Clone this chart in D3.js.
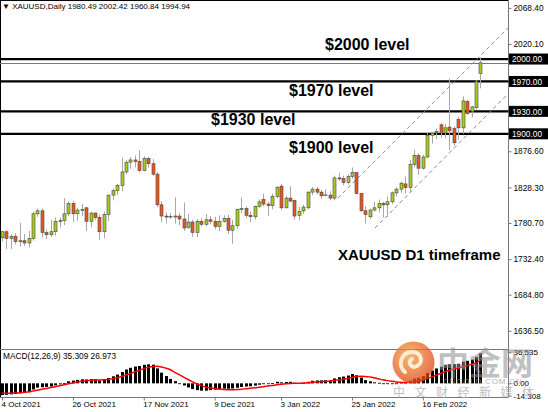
<!DOCTYPE html>
<html><head><meta charset="utf-8">
<script src="https://cdn.jsdelivr.net/npm/d3@7"></script>
<style>html,body{margin:0;padding:0;background:#fff;} svg{display:block;font-family:"Liberation Sans",Arial,sans-serif;}</style>
</head><body><svg id="c" width="548" height="412"></svg>
<script>
const dates = ["2021-10-04","2021-10-05","2021-10-06","2021-10-07","2021-10-08","2021-10-11","2021-10-12","2021-10-13","2021-10-14","2021-10-15",
"2021-10-18","2021-10-19","2021-10-20","2021-10-21","2021-10-22","2021-10-25","2021-10-26","2021-10-27","2021-10-28","2021-10-29",
"2021-11-01","2021-11-02","2021-11-03","2021-11-04","2021-11-05","2021-11-08","2021-11-09","2021-11-10","2021-11-11","2021-11-12",
"2021-11-15","2021-11-16","2021-11-17","2021-11-18","2021-11-19","2021-11-22","2021-11-23","2021-11-24","2021-11-25","2021-11-26",
"2021-11-29","2021-11-30","2021-12-01","2021-12-02","2021-12-03","2021-12-06","2021-12-07","2021-12-08","2021-12-09","2021-12-10",
"2021-12-13","2021-12-14","2021-12-15","2021-12-16","2021-12-17","2021-12-20","2021-12-21","2021-12-22","2021-12-23","2021-12-28",
"2021-12-29","2021-12-30","2021-12-31","2022-01-03","2022-01-04","2022-01-05","2022-01-06","2022-01-07","2022-01-10","2022-01-11",
"2022-01-12","2022-01-13","2022-01-14","2022-01-17","2022-01-18","2022-01-19","2022-01-20","2022-01-21","2022-01-24","2022-01-25",
"2022-01-26","2022-01-27","2022-01-28","2022-01-31","2022-02-01","2022-02-02","2022-02-03","2022-02-04","2022-02-07","2022-02-08",
"2022-02-09","2022-02-10","2022-02-11","2022-02-14","2022-02-15","2022-02-16","2022-02-17","2022-02-18","2022-02-21","2022-02-22",
"2022-02-23","2022-02-24","2022-02-25","2022-02-28","2022-03-01","2022-03-02","2022-03-03","2022-03-04","2022-03-07"];

const open = [1761,1769,1760,1763,1756,1757,1754,1760,1793,1797, 1768,1765,1769,1783,1784,1793,1807,1793,1798,1801,
1783,1794,1788,1769,1792,1818,1824,1831,1849,1862, 1865,1863,1851,1867,1860,1846,1805,1790,1789,1789,
1790,1786,1775,1782,1768,1783,1779,1785,1783,1776, 1783,1787,1771,1777,1799,1800,1791,1789,1803,1812,
1806,1804,1816,1830,1801,1814,1811,1791,1797,1801, 1822,1826,1822,1818,1818,1814,1841,1840,1835,1843,
1848,1820,1797,1789,1798,1801,1807,1805,1809,1821, 1826,1833,1828,1859,1871,1854,1869,1898,1902,1912,
1901,1909,1907,1919,1908,1943,1930,1935,1980.49];
const high = [1770,1771,1766,1767,1781,1766,1770,1796,1800,1800, 1772,1785,1788,1788,1814,1810,1810,1801,1806,1802,
1796,1795,1792,1796,1818,1827,1833,1868,1865,1869, 1871,1878,1870,1869,1866,1849,1810,1795,1794,1815,
1794,1808,1793,1785,1786,1787,1793,1790,1789,1791, 1791,1792,1785,1800,1815,1803,1796,1804,1812,1820,
1809,1820,1830,1833,1817,1830,1812,1802,1805,1823, 1829,1829,1825,1826,1823,1844,1848,1844,1846,1855,
1849,1821,1803,1800,1809,1812,1809,1816,1823,1829, 1836,1843,1865,1879,1874,1872,1902,1902,1907,1914,
1913,1974,1910,1923,1950,1945,1937,1972,2002.42];
const low = [1756,1746,1746,1752,1749,1750,1748,1757,1789,1761, 1759,1762,1764,1775,1778,1790,1782,1784,1790,1770,
1775,1785,1758,1760,1783,1811,1818,1823,1846,1853, 1855,1849,1850,1855,1844,1802,1782,1780,1786,1780,
1778,1770,1773,1762,1762,1776,1777,1779,1772,1770, 1781,1766,1753,1773,1794,1787,1782,1785,1801,1803,
1790,1799,1814,1798,1800,1809,1785,1784,1793,1799, 1818,1819,1813,1817,1811,1811,1837,1831,1832,1840,
1819,1796,1780,1786,1796,1795,1788,1789,1806,1816, 1821,1820,1821,1855,1845,1852,1867,1887,1893,1895,
1894,1878,1884,1892,1900,1925,1922,1932,1960.84];
const close = [1769,1760,1763,1756,1757,1754,1760,1793,1797,1768, 1765,1769,1783,1784,1793,1807,1793,1798,1799,1783,
1794,1788,1769,1792,1818,1824,1831,1849,1862,1865, 1863,1851,1867,1860,1846,1805,1790,1789,1789,1790,
1786,1774,1782,1768,1783,1779,1785,1783,1776,1783, 1787,1771,1777,1799,1800,1791,1789,1803,1809,1806,
1804,1816,1828,1801,1814,1810,1790,1796,1802,1822, 1826,1822,1817,1818,1814,1841,1840,1835,1843,1848,
1820,1797,1792,1798,1801,1807,1805,1809,1821,1826, 1834,1828,1859,1871,1854,1869,1898,1901,1903,1902,
1908,1904,1888,1908,1944,1927,1936,1970,1994.94];

const macdMain = [-13.8,-13.5,-13.0,-12.5,-11.8,-11.3,-10.5,-7.2,-5.0,-4.6,
-4.2,-3.7,-2.4,-1.2,0.4,2.4,3.3,4.1,4.8,4.6,
5.0,4.8,3.4,4.0,6.3,8.3,10.3,13.3,16.3,18.3,
19.8,20.4,21.8,22.4,22.0,17.6,12.6,8.6,5.2,2.6,
0.0,-2.5,-4.8,-6.8,-8.0,-8.6,-8.6,-8.0,-7.4,-6.8,
-6.2,-6.4,-6.1,-5.2,-4.3,-3.8,-3.4,-2.6,-1.6,-1.0,
-0.8,0.2,1.8,1.2,1.6,1.8,0.6,0.4,0.5,1.8,
3.0,3.4,3.5,3.7,3.5,5.8,7.2,8.0,9.2,11.0,
9.5,6.8,3.8,2.4,1.2,0.6,-0.1,-0.6,-0.5,-0.1,
0.8,0.8,3.0,5.5,6.5,8.5,12.0,15.0,17.5,19.5,
21.5,22.5,22.5,23.0,25.5,26.5,28.0,31.0,35.309];
const macdSignal = [-11.5,-11.7,-11.6,-11.4,-11.0,-10.5,-9.9,-9.0,-8.0,-7.0,
-6.0,-5.0,-3.9,-2.8,-1.6,-0.5,0.5,1.5,2.4,3.0,
3.6,4.0,4.0,4.1,4.6,5.4,6.5,8.0,9.8,11.6,
13.5,15.5,17.3,18.8,19.8,20.0,19.3,17.9,16.0,13.0,
10.2,7.3,4.5,1.8,-0.8,-2.7,-4.2,-5.3,-6.2,-6.8,
-7.2,-7.4,-7.5,-7.3,-6.9,-6.4,-5.9,-5.3,-4.6,-3.9,
-3.2,-2.5,-1.7,-1.1,-0.6,-0.1,0.1,0.2,0.3,0.6,
1.1,1.6,2.0,2.4,2.7,3.3,4.1,4.9,5.8,7.0,
8.0,8.3,8.2,7.6,6.6,5.4,4.2,3.2,2.4,1.7,
1.2,1.0,1.3,2.1,3.0,4.2,5.8,7.6,9.6,11.6,
13.6,15.4,16.8,18.0,19.5,20.9,22.3,24.1,26.973];

const priceTicks = [2068.40, 2020.10, 1876.60, 1828.30, 1780.70, 1732.40, 1684.80, 1636.50];
const levels = [2000, 1970, 1930, 1900];
const levelTexts = ["$2000 level", "$1970 level", "$1930 level", "$1900 level"];
const xTickDates = ["2021-10-04","2021-10-26","2021-11-17","2021-12-09","2022-01-03","2022-01-25","2022-02-16"];
const xTickLabels = ["4 Oct 2021","26 Oct 2021","17 Nov 2021","9 Dec 2021","3 Jan 2022","25 Jan 2022","16 Feb 2022"];
const macdTicks = [36.535, 0, -14.308];
const channelUpper = [[75.8, 1814.1], [114.2, 2041.5]];
const channelLower = [[84.2, 1774.0], [114.2, 1953.5]];

const svg = d3.select("#c");
const W = 548, H = 412, PR = 508.5;
const x = d3.scalePoint().domain(dates).range([2, 2 + 4.43 * (dates.length - 1)]);
const xi = d3.scaleLinear().domain([0, dates.length - 1]).range([2, 2 + 4.43 * (dates.length - 1)]);
const y = d3.scaleLinear().domain([1636.5, 2068.4]).range([330.8, 7.9]);
const ym = d3.scaleLinear().domain([-14.308, 36.535]).range([395.5, 352.3]);

svg.append("rect").attr("width", W).attr("height", H).attr("fill", "#fff");

// frame
const frame = svg.append("g").attr("stroke", "#000").attr("stroke-width", 1).attr("fill", "none");
frame.append("line").attr("x1", 0.5).attr("x2", 0.5).attr("y1", 0).attr("y2", 397.5);
frame.append("line").attr("x1", 0).attr("x2", PR).attr("y1", 0.5).attr("y2", 0.5);
frame.append("line").attr("x1", PR).attr("x2", PR).attr("y1", 0).attr("y2", 397.5).attr("stroke", "#777");
frame.append("line").attr("x1", 0).attr("x2", PR).attr("y1", 349.5).attr("y2", 349.5).attr("stroke", "#777");
frame.append("line").attr("x1", 0).attr("x2", PR).attr("y1", 397.5).attr("y2", 397.5).attr("stroke", "#777");

// right price axis
const ax = svg.append("g").attr("transform", `translate(${PR},0)`)
  .call(d3.axisRight(y).tickValues(priceTicks).tickFormat(d3.format(".2f")).tickSize(3).tickPadding(2));
ax.select(".domain").remove();
ax.selectAll("text").attr("font-size", 8.3).attr("fill", "#000");
ax.selectAll("line").attr("stroke", "#777");

// bottom axis
const bx = svg.append("g").attr("transform", "translate(0,397.5)")
  .call(d3.axisBottom(x).tickValues(xTickDates).tickFormat((d, i) => xTickLabels[i]).tickSize(3).tickPadding(1));
bx.select(".domain").remove();
bx.selectAll("line").attr("stroke", "#777");
bx.selectAll("text").attr("font-size", 8).attr("fill", "#000").attr("text-anchor", "start").attr("dx", -1);

// level lines
svg.append("g").selectAll("line").data(levels).join("line")
  .attr("x1", 0).attr("x2", PR).attr("y1", d => y(d)).attr("y2", d => y(d))
  .attr("stroke", "#000").attr("stroke-width", 2.2);
// bid line
const bidY = Math.round(y(close[close.length-1])) + 0.5;
svg.append("line").attr("x1", 0).attr("x2", PR).attr("y1", bidY).attr("y2", bidY)
  .attr("stroke", "#6f6fc8").attr("stroke-width", 1);

// channel lines
const chLine = d3.line().x(d => xi(d[0])).y(d => y(d[1]));
[channelUpper, channelLower].forEach(c => {
  svg.append("path").attr("d", chLine(c)).attr("fill", "none").attr("stroke", "#8a8a8a").attr("stroke-width", 1).attr("stroke-dasharray", "4,3");
});

// candles
const cg = svg.append("g");
dates.forEach((d, i) => {
  const cx = Math.round(x(d)) + 0.5;
  cg.append("line").attr("x1", cx).attr("x2", cx).attr("y1", y(high[i])).attr("y2", y(low[i])).attr("stroke", "#a8a8a8").attr("stroke-width", 1);
  const o = open[i], c = close[i];
  const top = y(Math.max(o, c)), bot = y(Math.min(o, c));
  if (Math.abs(o - c) < 0.6) {
    cg.append("line").attr("x1", cx - 2).attr("x2", cx + 2).attr("y1", top).attr("y2", top).attr("stroke", "#333").attr("stroke-width", 1);
  } else {
    cg.append("rect").attr("x", cx - 1.5).attr("y", top).attr("width", 3).attr("height", Math.max(1, bot - top))
      .attr("fill", c > o ? "#a6cc1c" : "#ee5620").attr("stroke", "#444").attr("stroke-width", 0.6);
  }
});

// level labels on axis
const lb = svg.append("g");
levels.forEach(v => {
  lb.append("rect").attr("x", 509).attr("y", y(v) - 5.5).attr("width", 39).attr("height", 11).attr("fill", "#000");
  lb.append("text").attr("x", 512).attr("y", y(v) + 3.2).attr("font-size", 8.3).attr("fill", "#fff").text(v.toFixed(2));
});

// annotations
const annPos = [[325, 50], [289, 96], [211, 125], [289, 153]];
svg.append("g").selectAll("text").data(levelTexts).join("text")
  .attr("x", (d, i) => annPos[i][0]).attr("y", (d, i) => annPos[i][1])
  .attr("font-size", 16).attr("font-weight", "bold").attr("fill", "#000").text(d => d);
svg.append("text").attr("x", 338).attr("y", 260).attr("font-size", 15).attr("font-weight", "bold").attr("fill", "#000").text("XAUUSD D1 timeframe");

// header
svg.append("text").attr("x", 2).attr("y", 9).attr("font-size", 8).attr("fill", "#000")
  .text("\u25BC XAUUSD,Daily  1980.49 2002.42 1960.84 1994.94");

// MACD
const mg = svg.append("g");
mg.selectAll("rect").data(macdMain).join("rect")
  .attr("x", (d, i) => Math.round(x(dates[i])) - 1)
  .attr("width", 3)
  .attr("y", d => Math.min(ym(d), ym(0)))
  .attr("height", d => Math.max(0.8, Math.abs(ym(d) - ym(0))))
  .attr("fill", "#000");
svg.append("path").datum(macdSignal).attr("d", d3.line().x((d, i) => x(dates[i])).y(d => ym(d)).curve(d3.curveMonotoneX))
  .attr("fill", "none").attr("stroke", "#f00").attr("stroke-width", 1.5);
svg.append("text").attr("x", 3).attr("y", 359).attr("font-size", 8.3).attr("fill", "#000").text("MACD(12,26,9) 35.309 26.973");
const max = svg.append("g").attr("transform", `translate(${PR},0)`)
  .call(d3.axisRight(ym).tickValues(macdTicks).tickFormat(d => d === 0 ? "0.00" : d.toFixed(3)).tickSize(3).tickPadding(2));
max.select(".domain").remove();
max.selectAll("text").attr("font-size", 8).attr("fill", "#000");
max.selectAll("line").attr("stroke", "#777");

// watermark
const wm = svg.append("g").attr("opacity", 0.75);
const grad = svg.append("defs").append("radialGradient").attr("id", "lg").attr("cx", "40%").attr("cy", "35%").attr("r", "70%");
grad.append("stop").attr("offset", "0%").attr("stop-color", "#f6a03a");
grad.append("stop").attr("offset", "100%").attr("stop-color", "#dc3d12");
wm.append("circle").attr("cx", 413.5).attr("cy", 362.5).attr("r", 21).attr("fill", "url(#lg)");
wm.append("path").attr("d", "M405,372 C397,366 401,352 412,352 C421,352 424,362 417,366 C411,369 407,362 412,359")
  .attr("fill", "none").attr("stroke", "#fde8c8").attr("stroke-width", 4).attr("stroke-linecap", "round");
wm.append("text").attr("x", 437).attr("y", 375).attr("font-family", "Noto Sans CJK SC").attr("font-weight", "bold").attr("font-size", 32)
  .attr("fill", "#8f8f8f").attr("opacity", 0.75).text("中金网");
wm.append("text").attr("x", 443).attr("y", 384).attr("font-size", 8).attr("fill", "#999").attr("letter-spacing", 0.8).text("CNGOLD.COM.CN");
wm.append("text").attr("x", 393).attr("y", 397).attr("font-family", "Noto Sans CJK SC").attr("font-size", 12)
  .attr("fill", "#aaa").attr("letter-spacing", 9.5).text("中文财经新媒体");
</script></body></html>
